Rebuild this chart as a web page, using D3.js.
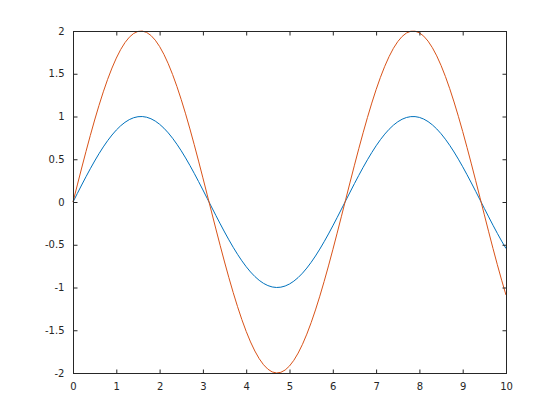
<!DOCTYPE html>
<html><head><meta charset="utf-8">
<script src="https://cdn.jsdelivr.net/npm/d3@7"></script>
<style>body{margin:0;background:#fff;}svg{display:block;}</style>
</head><body>
<svg id="chart" width="560" height="420"></svg>
<script>
const xValues = [0.0,0.1,0.2,0.3,0.4,0.5,0.6,0.7,0.8,0.9,1.0,1.1,1.2,1.3,1.4,1.5,1.6,1.7,1.8,1.9,2.0,2.1,2.2,2.3,2.4,2.5,2.6,2.7,2.8,2.9,3.0,3.1,3.2,3.3,3.4,3.5,3.6,3.7,3.8,3.9,4.0,4.1,4.2,4.3,4.4,4.5,4.6,4.7,4.8,4.9,5.0,5.1,5.2,5.3,5.4,5.5,5.6,5.7,5.8,5.9,6.0,6.1,6.2,6.3,6.4,6.5,6.6,6.7,6.8,6.9,7.0,7.1,7.2,7.3,7.4,7.5,7.6,7.7,7.8,7.9,8.0,8.1,8.2,8.3,8.4,8.5,8.6,8.7,8.8,8.9,9.0,9.1,9.2,9.3,9.4,9.5,9.6,9.7,9.8,9.9,10.0];
const series1 = [0,0.0998,0.1987,0.2955,0.3894,0.4794,0.5646,0.6442,0.7174,0.7833,0.8415,0.8912,0.9320,0.9636,0.9854,0.9975,0.9996,0.9917,0.9738,0.9463,0.9093,0.8632,0.8085,0.7457,0.6755,0.5985,0.5155,0.4274,0.3350,0.2392,0.1411,0.0416,-0.0584,-0.1577,-0.2555,-0.3508,-0.4425,-0.5298,-0.6119,-0.6878,-0.7568,-0.8183,-0.8716,-0.9162,-0.9516,-0.9775,-0.9937,-0.9999,-0.9962,-0.9825,-0.9589,-0.9258,-0.8835,-0.8323,-0.7728,-0.7055,-0.6313,-0.5507,-0.4646,-0.3739,-0.2794,-0.1822,-0.0831,0.0168,0.1165,0.2151,0.3115,0.4048,0.4941,0.5784,0.6570,0.7290,0.7937,0.8504,0.8987,0.9380,0.9679,0.9882,0.9985,0.9989,0.9894,0.9699,0.9407,0.9022,0.8546,0.7985,0.7344,0.6630,0.5849,0.5010,0.4121,0.3191,0.2229,0.1245,0.0248,-0.0752,-0.1743,-0.2718,-0.3665,-0.4575,-0.5440];
const series2 = [0,0.1997,0.3973,0.5910,0.7788,0.9589,1.1293,1.2884,1.4347,1.5667,1.6829,1.7824,1.8641,1.9271,1.9709,1.9950,1.9991,1.9833,1.9477,1.8926,1.8186,1.7264,1.6170,1.4914,1.3509,1.1969,1.0311,0.8548,0.6700,0.4785,0.2822,0.0831,-0.1167,-0.3155,-0.5110,-0.7016,-0.8850,-1.0596,-1.2238,-1.3756,-1.5136,-1.6366,-1.7432,-1.8324,-1.9032,-1.9551,-1.9874,-1.9998,-1.9923,-1.9650,-1.9178,-1.8515,-1.7670,-1.6646,-1.5455,-1.4111,-1.2625,-1.1015,-0.9293,-0.7478,-0.5588,-0.3643,-0.1662,0.0336,0.2331,0.4302,0.6230,0.8096,0.9883,1.1569,1.3140,1.4580,1.5875,1.7009,1.7974,1.8760,1.9358,1.9764,1.9970,1.9978,1.9787,1.9398,1.8814,1.8045,1.7093,1.5970,1.4689,1.3259,1.1699,1.0021,0.8242,0.6382,0.4458,0.2490,0.0496,-0.1504,-0.3486,-0.5436,-0.7331,-0.9150,-1.0880];
const xTicks = [0,1,2,3,4,5,6,7,8,9,10];
const yTicks = [-2,-1.5,-1,-0.5,0,0.5,1,1.5,2];
const yTickLabels = ["-2","-1.5","-1","-0.5","0","0.5","1","1.5","2"];
const seriesColors = ["#0072BD","#D95319"];

const L = 73, R = 506, T = 31, B = 373;
const svg = d3.select("#chart");
const x = d3.scaleLinear().domain([0,10]).range([L,R]);
const y = d3.scaleLinear().domain([-2,2]).range([B,T]);
const axColor = "#262626";
const font = "DejaVu Sans, sans-serif";

const line = d3.line().x((d,i)=>x(xValues[i])).y(d=>y(d));
[series1, series2].forEach((s,k)=>{
  svg.append("path").datum(s).attr("d", line)
    .attr("fill","none").attr("stroke", seriesColors[k]).attr("stroke-width",1);
});

function styleAxis(g){
  g.select(".domain").remove();
  g.selectAll("line").attr("stroke",axColor).attr("stroke-width",1);
  g.selectAll("text").attr("fill",axColor).attr("font-family",font).attr("font-size","10px");
}
// bottom
svg.append("g").attr("transform",`translate(0,${B+0.5})`)
  .call(d3.axisBottom(x).tickValues(xTicks).tickSize(-4).tickPadding(9).tickFormat(d3.format("d")))
  .call(styleAxis);
// top
svg.append("g").attr("transform",`translate(0,${T+0.5})`)
  .call(d3.axisTop(x).tickValues(xTicks).tickSize(-4).tickFormat(""))
  .call(styleAxis);
// left
svg.append("g").attr("transform",`translate(${L+0.5},0)`)
  .call(d3.axisLeft(y).tickValues(yTicks).tickSize(-4).tickPadding(9).tickFormat((d,i)=>yTickLabels[i]))
  .call(styleAxis);
// right
svg.append("g").attr("transform",`translate(${R+0.5},0)`)
  .call(d3.axisRight(y).tickValues(yTicks).tickSize(-4).tickFormat(""))
  .call(styleAxis);
// box
svg.append("rect").attr("x",L+0.5).attr("y",T+0.5).attr("width",R-L).attr("height",B-T)
  .attr("fill","none").attr("stroke",axColor).attr("stroke-width",1);
</script>
</body></html>
